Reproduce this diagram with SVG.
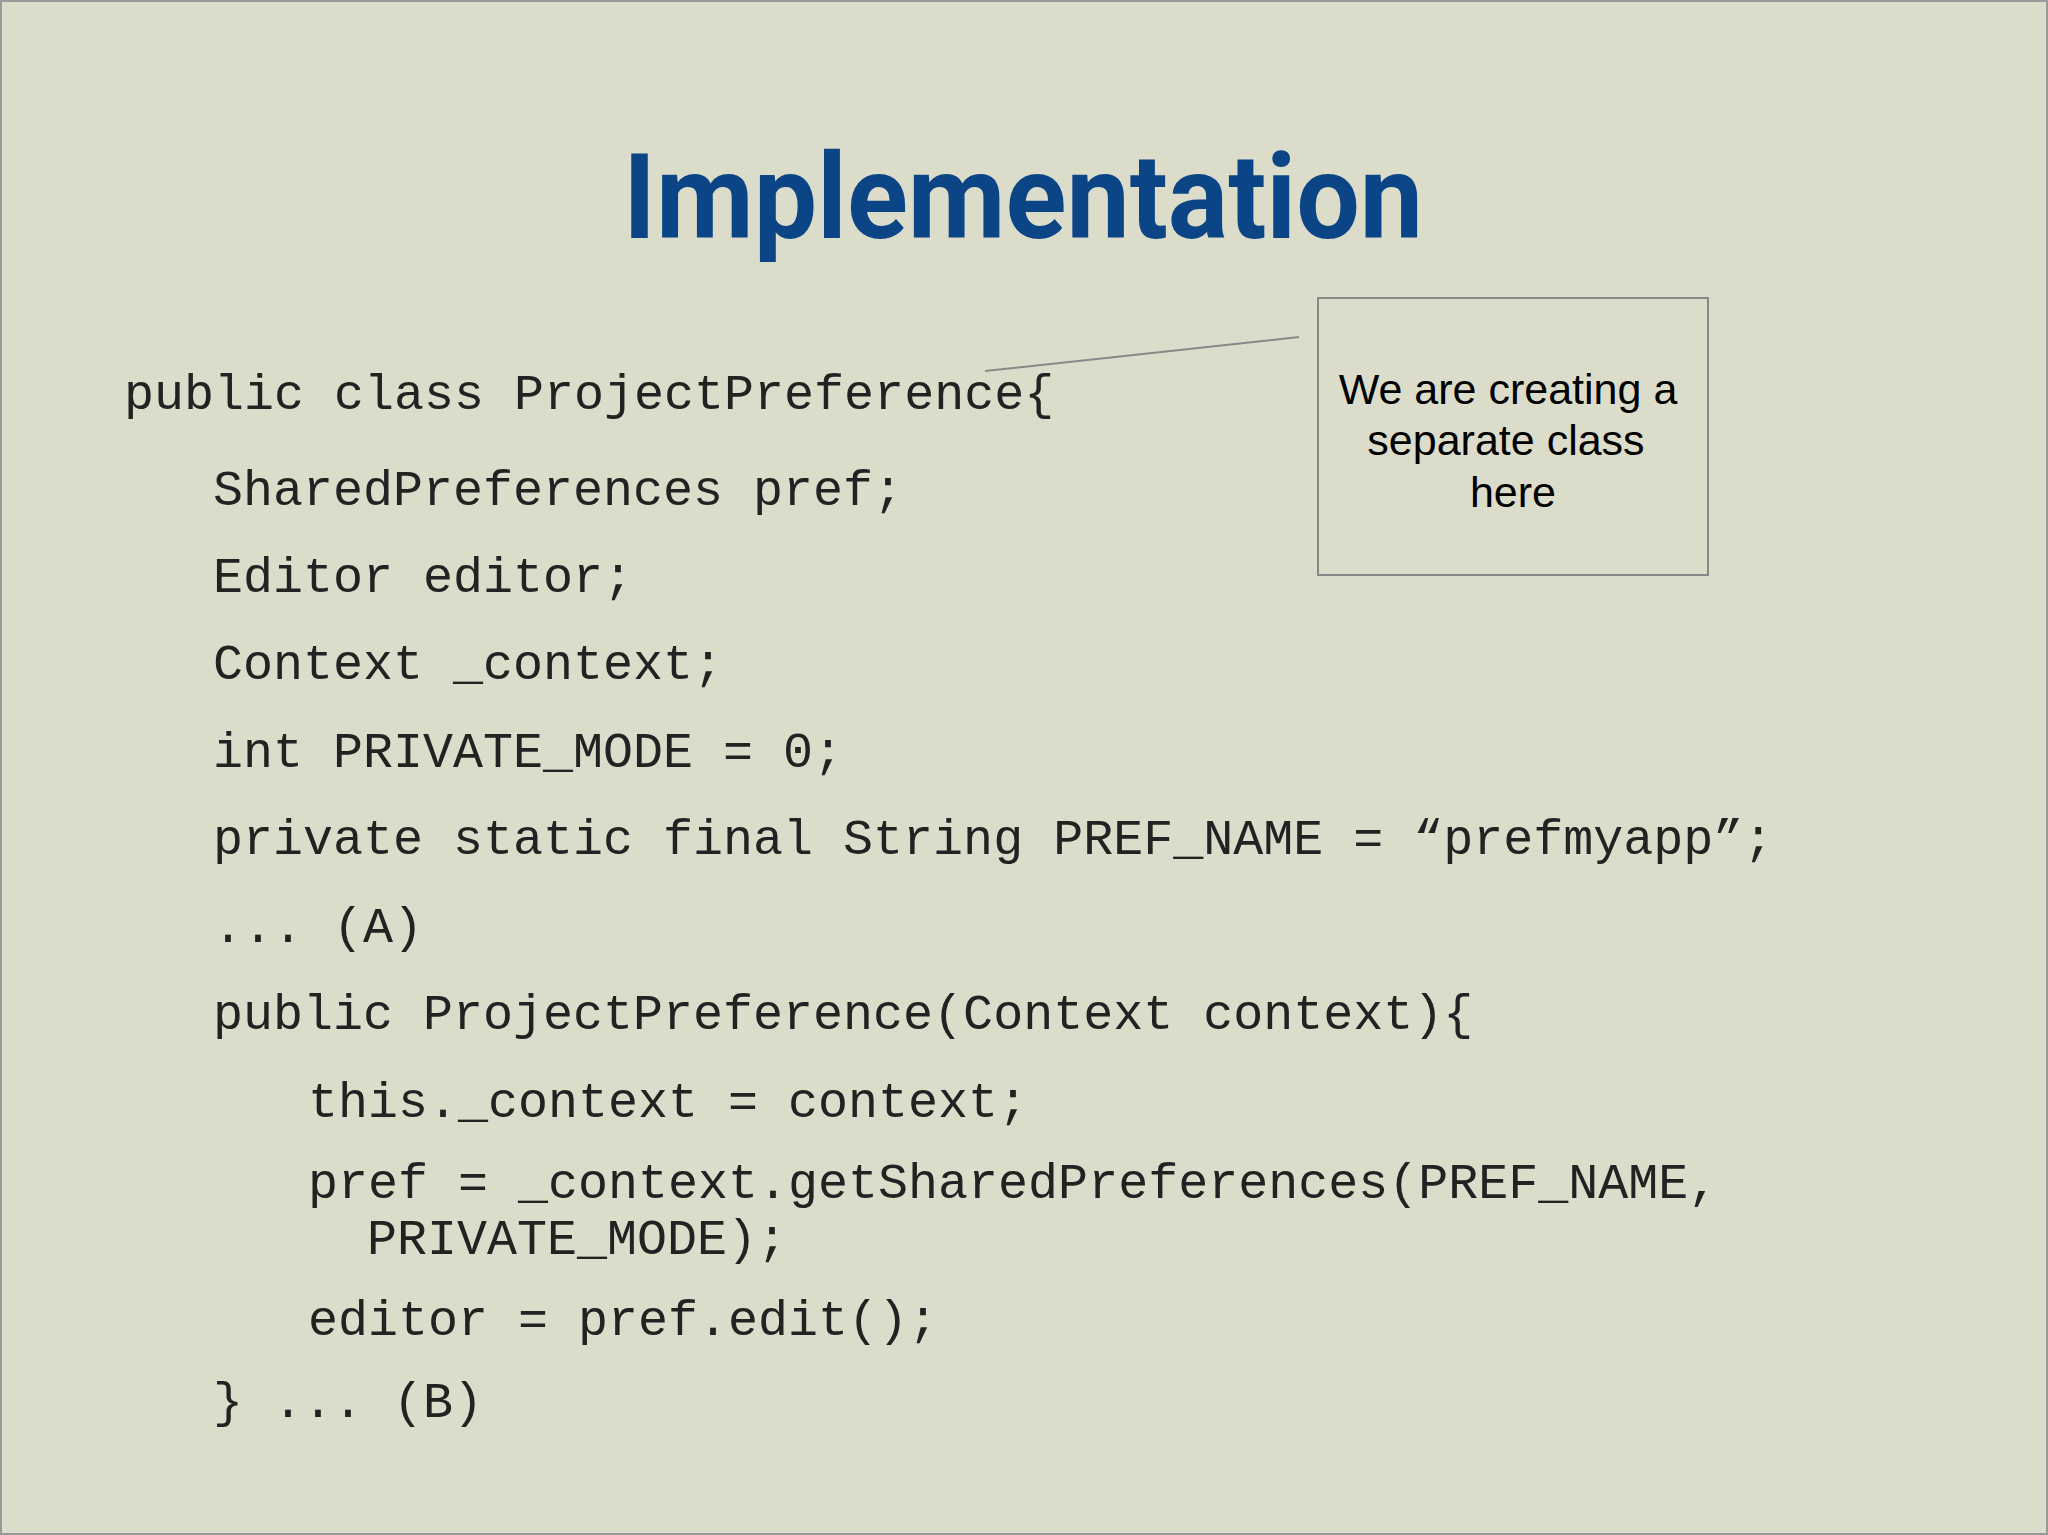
<svg xmlns="http://www.w3.org/2000/svg" width="2048" height="1535" viewBox="0 0 2048 1535">
<style>
.c{font-family:"Liberation Mono",monospace;font-size:50px;fill:#222}
.n{font-family:"Liberation Sans",Arial,sans-serif;font-size:43px;fill:#000;text-anchor:middle}
</style>
<rect x="1" y="1" width="2046" height="1533" fill="#dbdcca" stroke="#999" stroke-width="2"/>
<g id="title"><text x="1023" y="238" text-anchor="middle" font-family="Roboto,'Liberation Sans',sans-serif" font-weight="bold" font-size="118" fill="#0b4586" textLength="800" lengthAdjust="spacingAndGlyphs">Implementation</text></g>
<g id="code">
<text class="c" x="124" y="409">public class ProjectPreference{</text>
<text class="c" x="213" y="505">SharedPreferences pref;</text>
<text class="c" x="213" y="592">Editor editor;</text>
<text class="c" x="213" y="679">Context _context;</text>
<text class="c" x="213" y="767">int PRIVATE_MODE = 0;</text>
<text class="c" x="213" y="854">private static final String PREF_NAME = “prefmyapp”;</text>
<text class="c" x="213" y="942">... (A)</text>
<text class="c" x="213" y="1029">public ProjectPreference(Context context){</text>
<text class="c" x="308" y="1117">this._context = context;</text>
<text class="c" x="308" y="1198">pref = _context.getSharedPreferences(PREF_NAME,</text>
<text class="c" x="367" y="1254">PRIVATE_MODE);</text>
<text class="c" x="308" y="1335">editor = pref.edit();</text>
<text class="c" x="213" y="1417">} ... (B)</text>
</g>
<g id="connectors"><line x1="985" y1="371" x2="1299" y2="337" stroke="#888" stroke-width="2"/></g>
<g id="callout">
<rect x="1318" y="298" width="390" height="277" fill="none" stroke="#888" stroke-width="2"/>
<text class="n" x="1508" y="404">We are creating a</text>
<text class="n" x="1506" y="455">separate class</text>
<text class="n" x="1513" y="507">here</text>
</g>
</svg>
